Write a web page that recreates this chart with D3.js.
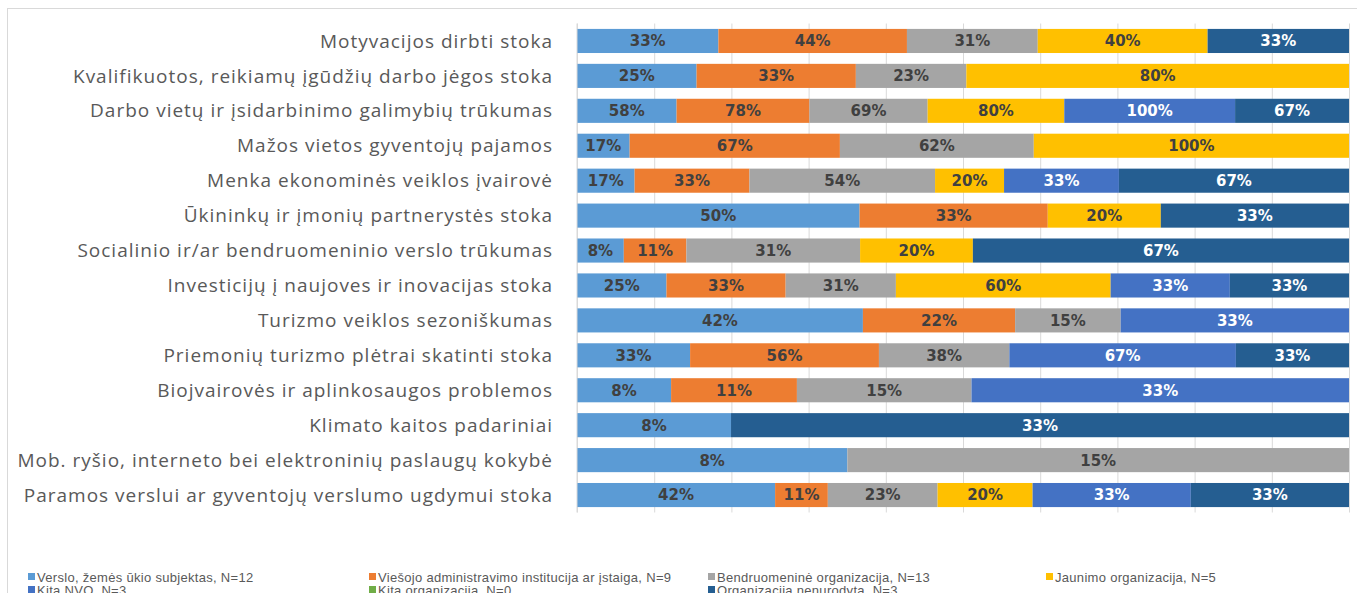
<!DOCTYPE html>
<html>
<head>
<meta charset="utf-8">
<script src="https://cdn.jsdelivr.net/npm/d3@7"></script>
<style>
  body { margin: 0; background: #fff; }
  svg { display: block; }
</style>
</head>
<body>
<div id="chart"></div>
<script>
var categories = [
  "Motyvacijos dirbti stoka",
  "Kvalifikuotos, reikiamų įgūdžių darbo jėgos stoka",
  "Darbo vietų ir įsidarbinimo galimybių trūkumas",
  "Mažos vietos gyventojų pajamos",
  "Menka ekonominės veiklos įvairovė",
  "Ūkininkų ir įmonių partnerystės stoka",
  "Socialinio ir/ar bendruomeninio verslo trūkumas",
  "Investicijų į naujoves ir inovacijas stoka",
  "Turizmo veiklos sezoniškumas",
  "Priemonių turizmo plėtrai skatinti stoka",
  "Biojvairovės ir aplinkosaugos problemos",
  "Klimato kaitos padariniai",
  "Mob. ryšio, interneto bei elektroninių paslaugų kokybė",
  "Paramos verslui ar gyventojų verslumo ugdymui stoka"
];

var seriesNames = [
  "Verslo, žemės ūkio subjektas, N=12",
  "Viešojo administravimo institucija ar įstaiga, N=9",
  "Bendruomeninė organizacija, N=13",
  "Jaunimo organizacija, N=5",
  "Kita NVO, N=3",
  "Kita organizacija, N=0",
  "Organizacija nenurodyta, N=3"
];

// percentages per series, one value per category (top to bottom)
var verslo      = [33.3, 25, 58.3, 16.7, 16.7, 50, 8.3, 25, 41.7, 33.3, 8.3, 8.3, 8.3, 41.7];
var viesojo     = [44.4, 33.3, 77.8, 66.7, 33.3, 33.3, 11.1, 33.3, 22.2, 55.6, 11.1, 0, 0, 11.1];
var bendruomene = [30.8, 23.1, 69.2, 61.5, 53.8, 0, 30.8, 30.8, 15.4, 38.4, 15.4, 0, 15.4, 23.1];
var jaunimo     = [40, 80, 80, 100, 20, 20, 20, 60, 0, 0, 0, 0, 0, 20];
var kitaNVO     = [0, 0, 100, 0, 33.3, 0, 0, 33.3, 33.3, 66.7, 33.3, 0, 0, 33.3];
var kitaOrg     = [0, 0, 0, 0, 0, 0, 0, 0, 0, 0, 0, 0, 0, 0];
var nenurodyta  = [33.3, 0, 66.7, 0, 66.7, 33.3, 66.7, 33.3, 0, 33.3, 0, 33.3, 0, 33.3];

var seriesValues = [verslo, viesojo, bendruomene, jaunimo, kitaNVO, kitaOrg, nenurodyta];
var colors = ["#5B9BD5", "#ED7D31", "#A5A5A5", "#FFC000", "#4472C4", "#70AD47", "#255E91"];
var labelColors = ["#404040", "#404040", "#404040", "#404040", "#ffffff", "#ffffff", "#ffffff"];

var width = 1357, height = 593;

// table for d3.stack (normalized: each row sums to 1)
var table = categories.map(function(c, i) {
  var row = { category: c };
  seriesNames.forEach(function(s, j) { row[s] = seriesValues[j][i]; });
  return row;
});

var stack = d3.stack()
  .keys(seriesNames)
  .offset(d3.stackOffsetExpand);
var layers = stack(table);

var x = d3.scaleLinear().domain([0, 1]).range([577, 1349]);
var y = d3.scaleBand()
  .domain(categories)
  .range([23.5, 512.5])
  .paddingInner(0.31)
  .paddingOuter(0.155);

var svg = d3.select("#chart").append("svg")
  .attr("width", width)
  .attr("height", height);

// chart area border
svg.append("rect")
  .attr("x", 7.5).attr("y", 8.5)
  .attr("width", width + 10).attr("height", height + 10)
  .attr("fill", "none")
  .attr("stroke", "#d9d9d9");

// gridlines
svg.append("g")
  .attr("transform", "translate(0," + y.range()[1] + ")")
  .call(d3.axisBottom(x).ticks(10).tickSize(-(y.range()[1] - y.range()[0])).tickFormat(""))
  .call(function(g) {
    g.select(".domain").remove();
    g.selectAll("line").attr("stroke", "#d9d9d9");
  });

// bars
var layer = svg.selectAll(".layer")
  .data(layers)
  .enter().append("g")
  .attr("class", "layer")
  .attr("fill", function(d, i) { return colors[i]; });

layer.selectAll("rect")
  .data(function(d) { return d; })
  .enter().append("rect")
  .attr("x", function(d) { return x(d[0]); })
  .attr("y", function(d) { return y(d.data.category); })
  .attr("width", function(d) { return x(d[1]) - x(d[0]); })
  .attr("height", y.bandwidth());

// value labels
layers.forEach(function(l, i) {
  svg.append("g").selectAll("text")
    .data(l.filter(function(d) { return d.data[l.key] > 0; }))
    .enter().append("text")
    .attr("x", function(d) { return (x(d[0]) + x(d[1])) / 2; })
    .attr("y", function(d) { return y(d.data.category) + y.bandwidth() / 2; })
    .attr("dy", "0.36em")
    .attr("text-anchor", "middle")
    .attr("fill", labelColors[i])
    .style("font-family", "'DejaVu Sans', sans-serif")
    .style("font-weight", "bold")
    .style("font-size", "15px")
    .text(function(d) { return Math.round(d.data[l.key]) + "%"; });
});

// y axis line
svg.append("line")
  .attr("x1", x(0)).attr("x2", x(0))
  .attr("y1", y.range()[0]).attr("y2", y.range()[1])
  .attr("stroke", "#d9d9d9");

// category labels
svg.append("g").selectAll("text")
  .data(categories)
  .enter().append("text")
  .attr("x", 553)
  .attr("y", function(d) { return y(d) + y.bandwidth() / 2; })
  .attr("dy", "0.35em")
  .attr("text-anchor", "end")
  .attr("fill", "#595959")
  .style("font-family", "'Open Sans', sans-serif")
  .style("font-size", "19px")
  .style("letter-spacing", "1px")
  .text(function(d) { return d; });

// legend
var legendX = [28, 369, 708, 1046];
var legend = svg.append("g").selectAll("g")
  .data(seriesNames)
  .enter().append("g")
  .attr("transform", function(d, i) {
    return "translate(" + legendX[i % 4] + "," + (577 + Math.floor(i / 4) * 13) + ")";
  });

legend.append("rect")
  .attr("x", 0).attr("y", -4)
  .attr("width", 7).attr("height", 7)
  .attr("fill", function(d, i) { return colors[i]; });

legend.append("text")
  .attr("x", 9)
  .attr("dy", "0.35em")
  .attr("fill", "#595959")
  .style("font-family", "'Liberation Sans', sans-serif")
  .style("font-size", "13px")
  .style("letter-spacing", "0.3px")
  .text(function(d) { return d; });
</script>
</body>
</html>
